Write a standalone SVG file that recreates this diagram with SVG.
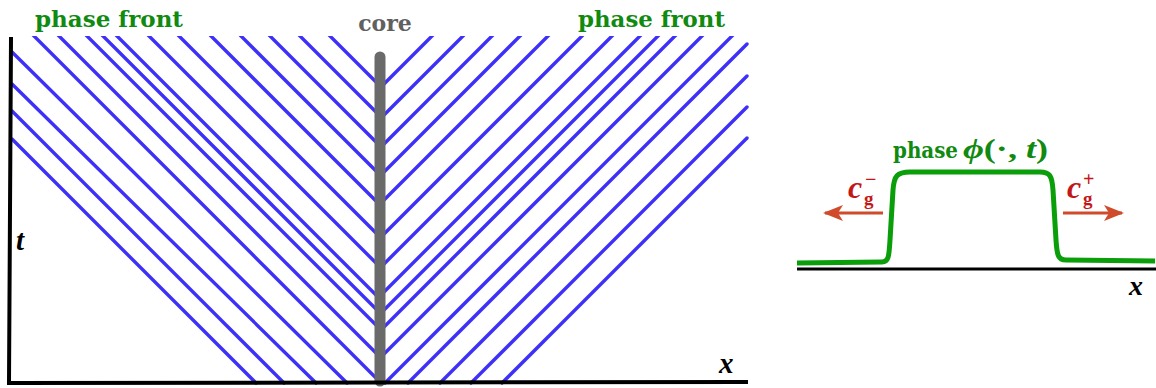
<svg xmlns="http://www.w3.org/2000/svg" width="1156" height="388" viewBox="0 0 1156 388">
<style>
.wave{stroke:#3d30f8;stroke-width:3.4;stroke-linecap:round;fill:none}
.axis{stroke:#000;stroke-width:4;fill:none;stroke-linecap:square}
.lbl{font-family:"DejaVu Serif",serif;font-weight:bold;font-size:22px}
.green{fill:#108a10}
.math{font-family:"Liberation Serif",serif;font-weight:bold;font-style:italic}
.up{font-family:"Liberation Serif",serif;font-weight:bold;font-style:normal}
.red{fill:#c41818}
.arr{stroke:#d04a2c;stroke-width:3;fill:none}
</style>
<defs>
<clipPath id="clipTop"><rect x="0" y="36" width="1156" height="352"/></clipPath>
<marker id="head" viewBox="0 0 20 16" refX="18" refY="8" markerWidth="20" markerHeight="16" markerUnits="userSpaceOnUse" orient="auto">
<path d="M0,0 L20,8 L0,16 L5,8 Z" fill="#d04a2c"/>
</marker>
</defs>
<g id="connectors">
<g id="phase-lines-left" clip-path="url(#clipTop)">
<line class="wave" x1="328" y1="34" x2="380" y2="86"/>
<line class="wave" x1="298" y1="34" x2="380" y2="116"/>
<line class="wave" x1="268" y1="34" x2="380" y2="146"/>
<line class="wave" x1="239" y1="34" x2="380" y2="175"/>
<line class="wave" x1="209" y1="34" x2="380" y2="205"/>
<line class="wave" x1="177" y1="34" x2="380" y2="237"/>
<line class="wave" x1="147" y1="34" x2="380" y2="267"/>
<line class="wave" x1="115" y1="34" x2="380" y2="299"/>
<line class="wave" x1="101" y1="34" x2="380" y2="313"/>
<line class="wave" x1="85" y1="34" x2="380" y2="329"/>
<line class="wave" x1="57" y1="34" x2="380" y2="357"/>
<line class="wave" x1="32" y1="34" x2="380" y2="382"/>
<line class="wave" x1="12" y1="52" x2="347" y2="383"/>
<line class="wave" x1="12" y1="84" x2="316" y2="383"/>
<line class="wave" x1="12" y1="111" x2="284" y2="383"/>
<line class="wave" x1="12" y1="139" x2="256" y2="383"/>
</g>
<g id="phase-lines-right" clip-path="url(#clipTop)">
<line class="wave" x1="380" y1="88" x2="434" y2="34"/>
<line class="wave" x1="380" y1="119" x2="465" y2="34"/>
<line class="wave" x1="380" y1="148" x2="494" y2="34"/>
<line class="wave" x1="380" y1="176" x2="522" y2="34"/>
<line class="wave" x1="380" y1="204" x2="550" y2="34"/>
<line class="wave" x1="380" y1="238" x2="584" y2="34"/>
<line class="wave" x1="380" y1="268" x2="614" y2="34"/>
<line class="wave" x1="380" y1="296" x2="642" y2="34"/>
<line class="wave" x1="380" y1="314" x2="660" y2="34"/>
<line class="wave" x1="380" y1="331" x2="677" y2="34"/>
<line class="wave" x1="380" y1="358" x2="704" y2="34"/>
<line class="wave" x1="385" y1="383" x2="734" y2="34"/>
<line class="wave" x1="408" y1="383" x2="747" y2="44"/>
<line class="wave" x1="440" y1="383" x2="747" y2="76"/>
<line class="wave" x1="471" y1="383" x2="747" y2="107"/>
<line class="wave" x1="502" y1="383" x2="747" y2="138"/>
</g>
<line id="arrow-left" class="arr" x1="883" y1="213" x2="825" y2="213" marker-end="url(#head)"/>
<line id="arrow-right" class="arr" x1="1063" y1="213" x2="1122" y2="213" marker-end="url(#head)"/>
</g>
<g id="core">
<line x1="380" y1="57" x2="380" y2="381" stroke="#6a6a6a" stroke-width="11" stroke-linecap="round"/>
<text class="lbl" x="385" y="31" text-anchor="middle" fill="#606060">core</text>
</g>
<g id="axes-left">
<polyline class="axis" points="11,39 9,383 746,382"/>
<text class="math" x="16" y="250" font-size="29">t</text>
<text class="math" x="719" y="373" font-size="29">x</text>
</g>
<g id="label-front-left">
<text class="lbl green" x="35" y="27" textLength="148" lengthAdjust="spacingAndGlyphs">phase front</text>
</g>
<g id="label-front-right">
<text class="lbl green" x="578" y="27" textLength="147" lengthAdjust="spacingAndGlyphs">phase front</text>
</g>
<g id="phase-profile">
<line x1="797" y1="269" x2="1156" y2="269" stroke="#000" stroke-width="3"/>
<path d="M797,263 L882,262 C889,262 889,255 890,240 L893,190 C894,176 897,172 910,172 L1040,172 C1050,172 1052,176 1053,190 L1056,240 C1057,255 1058,260 1066,260 L1155,261" fill="none" stroke="#0a9e0a" stroke-width="5" stroke-linejoin="round"/>
<text class="lbl green" x="893" y="158" font-size="20" textLength="65" lengthAdjust="spacingAndGlyphs">phase</text>
<text class="math green" x="963" y="158" font-size="28" textLength="85" lengthAdjust="spacingAndGlyphs">ϕ<tspan class="up">(·,</tspan> t<tspan class="up">)</tspan></text>
<text class="math" x="1129" y="295" font-size="28">x</text>
</g>
<g id="label-cminus">
<text class="math red" x="848" y="198" font-size="32">c</text>
<text class="up red" x="865" y="186" font-size="20">−</text>
<text class="up red" x="864" y="205" font-size="19">g</text>
</g>
<g id="label-cplus">
<text class="math red" x="1067" y="198" font-size="32">c</text>
<text class="up red" x="1083" y="186" font-size="20">+</text>
<text class="up red" x="1083" y="205" font-size="19">g</text>
</g>
</svg>
